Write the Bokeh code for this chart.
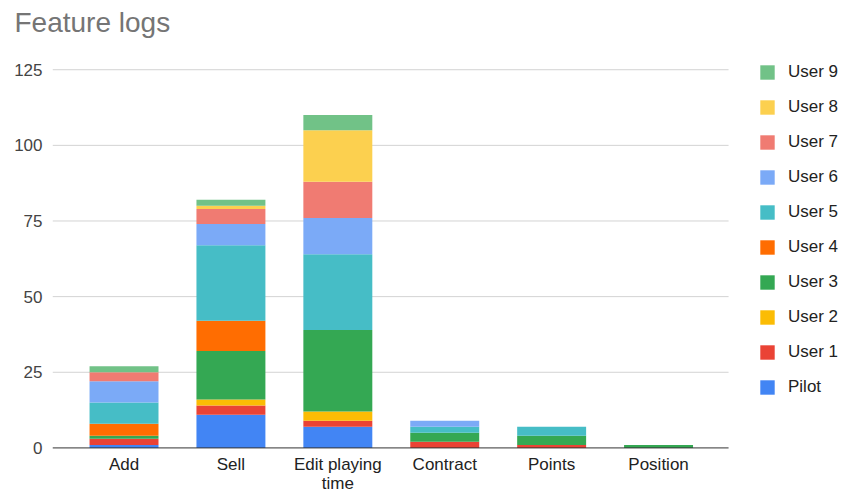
from bokeh.plotting import figure
from bokeh.models import Range1d, Legend, LegendItem, ColumnDataSource, FixedTicker
from bokeh.core.properties import value
from bokeh.embed import file_html
from bokeh.resources import INLINE

categories = ["Add", "Sell", "Edit playing\ntime", "Contract", "Points", "Position"]
series = ["Pilot", "User 1", "User 2", "User 3", "User 4", "User 5", "User 6", "User 7", "User 8", "User 9"]
colors = ["#4285F4", "#EA4335", "#FBBC04", "#34A853", "#FF6D01", "#46BDC6", "#7BAAF7", "#F07B72", "#FCD04F", "#71C287"]

pilot = [1, 11, 7, 0, 0, 0]
user1 = [2, 3, 2, 2, 1, 0]
user2 = [0, 2, 3, 0, 0, 0]
user3 = [1, 16, 27, 3, 3, 1]
user4 = [4, 10, 0, 0, 0, 0]
user5 = [7, 25, 25, 2, 3, 0]
user6 = [7, 7, 12, 2, 0, 0]
user7 = [3, 5, 12, 0, 0, 0]
user8 = [0, 1, 17, 0, 0, 0]
user9 = [2, 2, 5, 0, 0, 0]
y_ticks = [0, 25, 50, 75, 100, 125]

FONT = "Liberation Sans"
xpos = list(range(len(categories)))

data = {"x": xpos}
for name, vals in zip(series, [pilot, user1, user2, user3, user4, user5, user6, user7, user8, user9]):
    data[name] = vals
source = ColumnDataSource(data)

# plot area geometry (data units): categories at 0..5, gridlines span -0.669..5.655
x_lo, x_hi, grid_hi = -0.669, 6.73, 5.655
y_lo, y_hi = -15.07, 134.33

p = figure(width=843, height=493, output_backend="svg", toolbar_location=None,
           x_range=Range1d(x_lo, x_hi), y_range=Range1d(y_lo, y_hi),
           min_border_left=52, min_border_right=0, min_border_top=40, min_border_bottom=0)

p.title.text = "Feature logs"
p.title.text_font = FONT
p.title.text_font_size = "28px"
p.title.text_font_style = "normal"
p.title.text_color = "#757575"
p.title.offset = -38
p.title.standoff = 8

# horizontal gridlines
p.segment(x0=[x_lo] * (len(y_ticks) - 1), x1=[grid_hi] * (len(y_ticks) - 1),
          y0=y_ticks[1:], y1=y_ticks[1:], line_color="#d3d3d3", line_width=1)

renderers = p.vbar_stack(series, x="x", width=0.645, source=source, color=colors, line_color=None)

# baseline
p.segment(x0=[x_lo], x1=[grid_hi], y0=[0], y1=[0], line_color="#333333", line_width=1)

# category labels under the baseline
p.text(x=xpos, y=[0] * len(xpos), text=categories, y_offset=7,
       text_align="center", text_baseline="top", text_line_height=1.0,
       text_font=value(FONT), text_font_size="17px", text_color="#222222")

items = [LegendItem(label=s, renderers=[r]) for s, r in zip(series, renderers)]
items = items[::-1]
legend = Legend(items=items, location=(706, 96), orientation="vertical",
                glyph_width=18, glyph_height=18, label_standoff=12, spacing=15,
                padding=0, margin=0, border_line_color=None, background_fill_alpha=0,
                label_text_font=FONT, label_text_font_size="17px", label_text_color="#222222")
p.add_layout(legend, "center")

p.outline_line_color = None
p.xgrid.grid_line_color = None
p.ygrid.grid_line_color = None
p.xaxis.visible = False

p.yaxis.ticker = FixedTicker(ticks=y_ticks)
p.yaxis.axis_line_color = None
p.yaxis.major_tick_line_color = None
p.yaxis.minor_tick_line_color = None
p.yaxis.major_tick_out = 0
p.yaxis.major_tick_in = 0
p.yaxis.minor_tick_out = 0
p.yaxis.major_label_text_font = FONT
p.yaxis.major_label_text_font_size = "17px"
p.yaxis.major_label_text_color = "#444444"
p.yaxis.major_label_standoff = 10

open("out.html", "w").write(file_html(p, INLINE))
